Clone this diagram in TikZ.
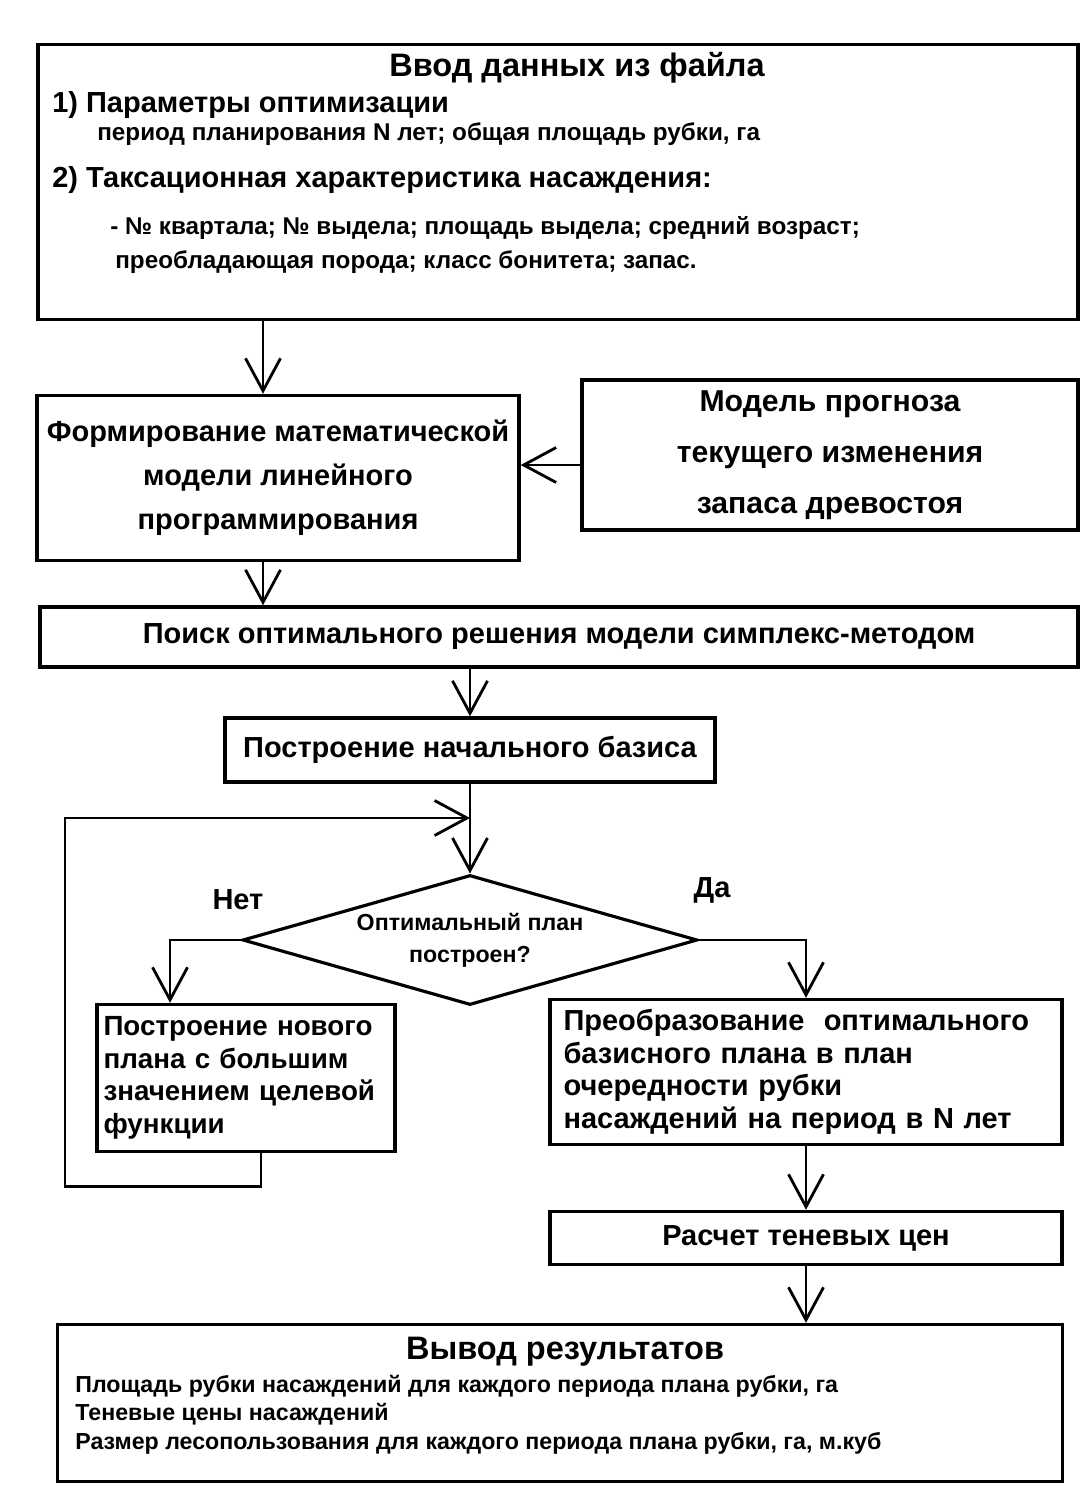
\documentclass[tikz,border=0pt]{standalone}
\usepackage{fontspec}
\setmainfont{Liberation Sans}
\usetikzlibrary{arrows.meta,shapes.geometric}

\newcommand{\bigf}{\fontsize{16.5}{25}\selectfont\bfseries}
\newcommand{\headf}{\fontsize{18.5}{22}\selectfont\bfseries}
\newcommand{\progf}{\fontsize{17.2}{29}\selectfont\bfseries}
\newcommand{\midf}{\fontsize{15.8}{18.5}\selectfont\bfseries}
\newcommand{\convf}{\fontsize{16.5}{18.5}\selectfont\bfseries}
\newcommand{\smallf}{\fontsize{13.2}{18}\selectfont\bfseries}
\newcommand{\inpf}{\fontsize{13.8}{18}\selectfont\bfseries}

\begin{document}
\begin{tikzpicture}[x=0.02cm,y=-0.02cm,
    blk/.style={draw,line width=2pt,inner sep=0pt},
    ln/.style={line width=1.6pt},
    arr/.style={line width=1.6pt,-{Straight Barb[length=0.65cm,width=0.7cm,line width=1.6pt]}},
    txt/.style={inner sep=0pt,font=\bigf},
    stxt/.style={inner sep=0pt,font=\smallf}]
\useasboundingbox (0,0) rectangle (1086,1488);

% input data
\node[blk,minimum width=20.8cm,minimum height=5.5cm] (inp) at (558,182) {};
\node[txt,font=\headf] (inptitle) at (577,68) {Ввод данных из файла};
\node[txt,anchor=west] (par) at (52,105) {1) Параметры оптимизации};
\node[stxt,font=\inpf,anchor=west] (parl) at (97,134) {период планирования N лет; общая площадь рубки, га};
\node[txt,anchor=west] (tax) at (52,180) {2) Таксационная характеристика насаждения:};
\node[stxt,font=\inpf,anchor=west] (taxa) at (110,228) {- № квартала; № выдела; площадь выдела; средний возраст;};
\node[stxt,font=\inpf,anchor=west] (taxb) at (115,262) {преобладающая порода; класс бонитета; запас.};

% model
\node[blk,minimum width=9.64cm,minimum height=3.3cm,align=center,font=\bigf] (form) at (278,478)
    {Формирование математической\\модели линейного\\программирования};
\node[blk,minimum width=9.92cm,minimum height=3cm,align=center,font=\progf] (prog) at (830,455)
    {Модель прогноза\\текущего изменения\\запаса древостоя};

\node[blk,minimum width=20.76cm,minimum height=1.2cm,font=\bigf] (search) at (559,637)
    {Поиск оптимального решения модели симплекс-методом};
\node[blk,minimum width=9.8cm,minimum height=1.28cm,font=\bigf] (basis) at (470,750)
    {Построение начального базиса};

% decision
\node[draw,line width=1.8pt,diamond,aspect=3.5,minimum width=9.1cm,minimum height=2.6cm,
    inner sep=0pt,align=center,font=\smallf] (opt) at (470,940) {Оптимальный план\\построен?};
\node[txt] (no) at (238,900) {Нет};
\node[txt] (yes) at (712,890) {Да};

\node[blk,minimum width=5.96cm,minimum height=2.94cm,text width=5.7cm,align=left,font=\midf] (newp) at (246,1078)
    {Построение нового\\плана с большим\\значением целевой\\функции};
\node[blk,minimum width=10.24cm,minimum height=2.9cm,text width=9.7cm,align=left,font=\convf] (conv) at (806,1072)
    {Преобразование\ \ оптимального\\базисного плана в план\\очередности рубки\\насаждений на период в N лет};
\node[blk,minimum width=10.24cm,minimum height=1.06cm,font=\bigf] (shad) at (806,1238) {Расчет теневых цен};

% output
\node[blk,minimum width=20.1cm,minimum height=3.14cm] (outp) at (560,1403) {};
\node[txt,font=\headf] (outtitle) at (565,1352) {Вывод результатов};
\node[stxt,anchor=west] (out1) at (75,1386) {Площадь рубки насаждений для каждого периода плана рубки, га};
\node[stxt,anchor=west] (out2) at (75,1414) {Теневые цены насаждений};
\node[stxt,anchor=west] (out3) at (75,1443) {Размер лесопользования для каждого периода плана рубки, га, м.куб};

% arrows
\coordinate (join) at (470,818);
\draw[arr] ([xshift=-0.3cm]form.north |- inp.south) -- ([xshift=-0.3cm]form.north);
\draw[arr] ([yshift=-0.2cm]prog.west) -- ([yshift=-0.2cm]prog.west -| form.east);
\draw[arr] ([xshift=-0.3cm]form.south) -- ([xshift=-0.3cm]form.south |- search.north);
\draw[arr] (search.south -| basis.north) -- (basis.north);
\draw[arr] (basis.south) -- (opt.north);
\draw[arr] ([xshift=0.3cm]newp.south) -- ++(0,33) -| (65,818) -- (join);
\draw[arr] (opt.west) -| ([xshift=-1.52cm]newp.north);
\draw[arr] (opt.east) -| (conv.north);
\draw[arr] (conv.south) -- (shad.north);
\draw[arr] (shad.south) -- (shad.south |- outp.north);
\end{tikzpicture}
\end{document}
